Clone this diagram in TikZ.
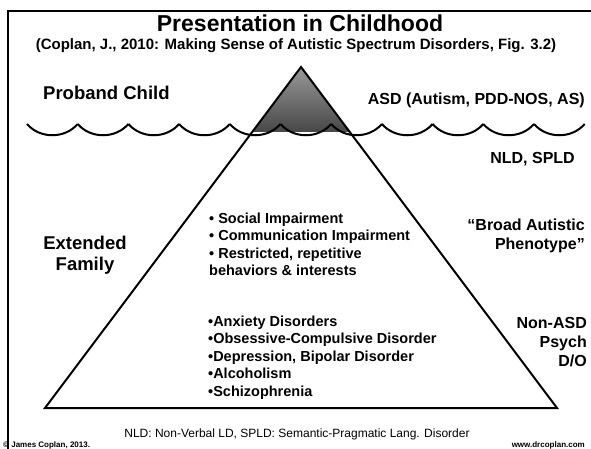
\documentclass[tikz,border=0pt]{standalone}
\usepackage{fontspec}
\setmainfont{Liberation Sans}
\begin{document}
\begin{tikzpicture}[x=1pt,y=-1pt,
  txt/.style={inner sep=0pt,font=\bfseries\fontsize{16}{19}\selectfont},
  big/.style={inner sep=0pt,font=\bfseries\fontsize{18.5}{21}\selectfont},
  item/.style={inner sep=0pt,font=\bfseries\fontsize{14.5}{17.5}\selectfont},
  tiny/.style={inner sep=0pt,font=\bfseries\fontsize{8}{10}\selectfont},
  thick line/.style={line width=2pt}]
\useasboundingbox (0,0) rectangle (591,449);
\fill[white] (0,0) rectangle (591,449);
% frame
\draw[thick line] (8,449) -- (8,11) -- (591,11);
% iceberg
\coordinate (apex) at (301,67);
\coordinate (bl) at (45,408);
\coordinate (br) at (557,408);
\coordinate (wl) at (252.2,132);
\coordinate (wr) at (349.8,132);
\shade[top color=black!40, bottom color=black!72] (apex) -- (wl) -- (wr) -- cycle;
\draw[thick line, line join=miter] (apex) -- (bl) -- (br) -- cycle;
% waves
\foreach \i in {0,...,10} {
  \pgfmathsetmacro{\xa}{27+50.7*\i}
  \pgfmathsetmacro{\xb}{27+50.7*(\i+1)}
  \draw[thick line] (\xa,124) .. controls (\xa+13,139) and (\xb-13,139) .. (\xb,124);
}
% titles
\node[inner sep=0pt,font=\bfseries\fontsize{23}{27}\selectfont,anchor=base] (title) at (300,32) {Presentation in Childhood};
\node[inner sep=0pt,font=\bfseries\fontsize{15}{18}\selectfont,anchor=base] (sub) at (296,50) {(Coplan, J., 2010: Making Sense of Autistic Spectrum Disorders, Fig. 3.2)};
% left labels
\node[big,anchor=base west] (proband) at (43,100) {Proband Child};
\node[big,anchor=base,align=center] (ext) at (85,270) {Extended\\Family};
% right labels
\node[txt,anchor=base east] (asd) at (585,105) {ASD (Autism, PDD-NOS, AS)};
\node[txt,anchor=base east] (nld) at (575,164) {NLD, SPLD};
\node[txt,anchor=base east,align=right] (bap) at (585,249) {“Broad Autistic\\Phenotype”};
\node[txt,anchor=north east,align=right] (nonasd) at (587,317) {Non-ASD\\Psych\\D/O};
% inner items
\node[item,anchor=base west,align=left] (core) at (209,275.5) {• Social Impairment\\• Communication Impairment\\• Restricted, repetitive\\behaviors \& interests};
\node[item,anchor=base west,align=left] (psych) at (208,396) {•Anxiety Disorders\\•Obsessive-Compulsive Disorder\\•Depression, Bipolar Disorder\\•Alcoholism\\•Schizophrenia};
% footer
\node[inner sep=0pt,font=\fontsize{12}{14}\selectfont,anchor=base] (foot) at (297,437) {NLD: Non-Verbal LD, SPLD: Semantic-Pragmatic Lang. Disorder};
\node[tiny,anchor=base west] (copy) at (3,447) {© James Coplan, 2013.};
\node[tiny,anchor=base east] (web) at (585,447) {www.drcoplan.com};
\end{tikzpicture}
\end{document}
